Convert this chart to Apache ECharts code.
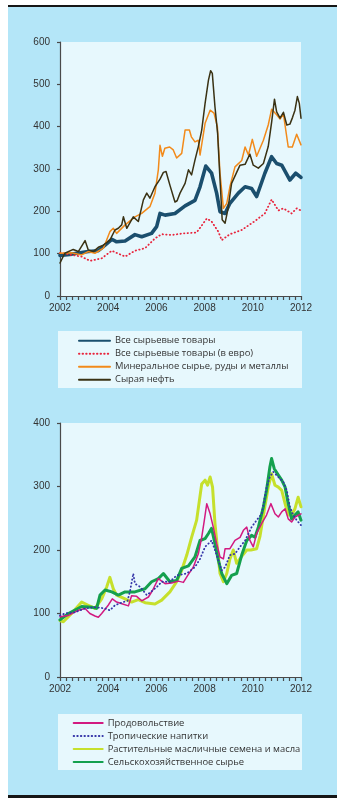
<!DOCTYPE html>
<html>
<head>
<meta charset="utf-8">
<script src="https://cdn.jsdelivr.net/npm/echarts@6/dist/echarts.min.js"></script>
<style>
  html, body { margin: 0; padding: 0; background: #ffffff; }
  #wrap { position: relative; width: 345px; height: 805px; overflow: hidden; }
  #panel { position: absolute; left: 8px; top: 7px; width: 329px; height: 788px; background: #b4e6f8; }
  .rule { position: absolute; left: 8px; width: 329px; height: 2.5px; background: #161616; }
  #chart { position: absolute; left: 0; top: 0; width: 345px; height: 805px; }
</style>
</head>
<body>
<div id="wrap">
  <div id="panel"></div>
  <div class="rule" style="top:4.5px"></div>
  <div class="rule" style="top:795px"></div>
  <div id="chart"></div>
</div>
<script>
// Commodity price indices, 2002 = 100 (pairs of [year, index])
const allCommodities = [[2002.0,96],[2002.5,99],[2003.17,105],[2003.59,107],[2003.87,120],[2004.15,134],[2004.35,128],[2004.7,130],[2005.11,145],[2005.39,140],[2005.8,148],[2006.01,164],[2006.15,195],[2006.36,191],[2006.77,195],[2007.19,213],[2007.6,226],[2007.81,258],[2008.05,307],[2008.29,290],[2008.5,243],[2008.64,199],[2008.85,195],[2009.05,219],[2009.4,243],[2009.68,258],[2009.95,254],[2010.16,235],[2010.5,290],[2010.78,329],[2010.99,313],[2011.2,309],[2011.54,274],[2011.78,290],[2012.0,280]];
const allCommoditiesEuro = [[2002.0,102],[2002.48,97],[2002.9,93],[2003.24,83],[2003.73,89],[2004.15,107],[2004.7,93],[2005.11,107],[2005.53,113],[2005.94,136],[2006.22,146],[2006.63,144],[2007.12,148],[2007.67,150],[2008.09,183],[2008.29,176],[2008.57,152],[2008.71,132],[2009.05,146],[2009.54,156],[2010.09,177],[2010.5,195],[2010.78,228],[2011.06,202],[2011.27,207],[2011.61,195],[2011.82,207],[2012.0,202]];
const minerals = [[2002.0,101],[2002.48,102],[2002.9,97],[2003.17,105],[2003.45,101],[2003.8,113],[2004.07,152],[2004.21,160],[2004.35,148],[2004.7,168],[2005.11,187],[2005.39,195],[2005.73,211],[2005.94,243],[2006.08,298],[2006.15,356],[2006.25,330],[2006.35,349],[2006.55,352],[2006.7,345],[2006.84,326],[2007.05,337],[2007.19,392],[2007.37,392],[2007.45,376],[2007.6,364],[2007.74,368],[2007.81,333],[2008.02,408],[2008.23,439],[2008.39,432],[2008.53,400],[2008.64,290],[2008.78,207],[2008.92,219],[2009.05,258],[2009.26,305],[2009.54,320],[2009.68,352],[2009.82,333],[2009.98,370],[2010.16,330],[2010.44,368],[2010.64,404],[2010.78,441],[2010.99,428],[2011.13,418],[2011.27,430],[2011.47,352],[2011.64,352],[2011.82,382],[2012.0,357]];
const crudeOil = [[2002.0,78],[2002.2,101],[2002.55,110],[2002.76,105],[2003.04,131],[2003.17,109],[2003.38,105],[2003.59,115],[2003.8,120],[2004.07,132],[2004.28,156],[2004.42,160],[2004.56,168],[2004.63,187],[2004.77,160],[2005.04,187],[2005.25,176],[2005.46,227],[2005.6,243],[2005.73,231],[2005.94,258],[2006.15,276],[2006.29,292],[2006.4,294],[2006.56,262],[2006.77,222],[2006.86,225],[2006.98,243],[2007.19,266],[2007.33,298],[2007.46,286],[2007.6,321],[2007.74,353],[2007.88,392],[2008.02,455],[2008.16,510],[2008.25,532],[2008.32,526],[2008.43,447],[2008.54,384],[2008.64,274],[2008.73,180],[2008.85,172],[2008.96,203],[2009.12,266],[2009.33,292],[2009.47,309],[2009.68,311],[2009.88,335],[2010.02,309],[2010.23,302],[2010.44,313],[2010.64,353],[2010.78,410],[2010.9,465],[2010.99,435],[2011.13,420],[2011.27,434],[2011.41,404],[2011.54,406],[2011.65,422],[2011.75,439],[2011.85,471],[2011.93,455],[2012.0,420]];

const food = [[2002.0,95],[2002.35,97],[2002.76,105],[2003.04,108],[2003.24,100],[2003.45,96],[2003.59,94],[2003.73,100],[2004.0,113],[2004.17,123],[2004.35,118],[2004.6,115],[2004.84,112],[2004.97,128],[2005.18,127],[2005.39,120],[2005.67,126],[2005.85,137],[2006.08,155],[2006.36,147],[2006.63,148],[2006.91,151],[2007.12,149],[2007.3,160],[2007.53,173],[2007.74,194],[2007.88,220],[2007.99,247],[2008.09,273],[2008.23,257],[2008.36,236],[2008.5,210],[2008.64,189],[2008.78,186],[2008.85,202],[2009.05,202],[2009.26,215],[2009.47,220],[2009.61,231],[2009.75,236],[2009.88,215],[2010.02,205],[2010.16,226],[2010.37,242],[2010.57,255],[2010.75,273],[2010.92,257],[2011.06,252],[2011.2,260],[2011.34,265],[2011.47,249],[2011.61,244],[2011.75,252],[2012.0,257]];
const beverages = [[2002.0,97],[2002.2,100],[2002.62,102],[2003.04,108],[2003.45,110],[2003.87,108],[2004.07,105],[2004.28,113],[2004.63,118],[2004.8,120],[2004.9,134],[2005.04,163],[2005.11,147],[2005.32,142],[2005.6,129],[2005.87,137],[2006.08,144],[2006.22,150],[2006.56,150],[2006.84,160],[2007.26,163],[2007.6,173],[2007.81,186],[2008.02,205],[2008.16,210],[2008.29,215],[2008.43,200],[2008.57,184],[2008.71,168],[2008.85,173],[2009.05,192],[2009.26,194],[2009.47,205],[2009.68,215],[2009.95,236],[2010.16,247],[2010.37,257],[2010.57,299],[2010.71,315],[2010.85,323],[2011.06,315],[2011.27,307],[2011.41,294],[2011.54,268],[2011.68,255],[2011.82,247],[2012.0,239]];
const oilseeds = [[2002.0,89],[2002.14,87],[2002.48,100],[2002.9,118],[2003.17,113],[2003.45,108],[2003.73,123],[2003.94,142],[2004.07,157],[2004.21,139],[2004.35,129],[2004.7,123],[2004.97,118],[2005.25,122],[2005.53,117],[2005.94,115],[2006.22,121],[2006.56,134],[2006.84,150],[2007.05,168],[2007.26,192],[2007.46,220],[2007.67,247],[2007.88,304],[2008.02,310],[2008.12,302],[2008.23,315],[2008.33,299],[2008.43,242],[2008.54,200],[2008.64,163],[2008.78,150],[2008.92,163],[2009.05,186],[2009.19,200],[2009.33,179],[2009.54,190],[2009.75,200],[2009.92,200],[2010.16,202],[2010.3,222],[2010.5,268],[2010.64,299],[2010.78,320],[2010.92,302],[2011.06,299],[2011.2,294],[2011.34,273],[2011.47,255],[2011.61,255],[2011.75,265],[2011.88,283],[2012.0,268]];
const agriRaw = [[2002.0,90],[2002.35,100],[2002.9,111],[2003.32,110],[2003.52,108],[2003.66,129],[2003.87,137],[2004.15,134],[2004.42,129],[2004.7,134],[2005.11,134],[2005.53,139],[2005.8,150],[2006.08,155],[2006.29,163],[2006.56,150],[2006.84,152],[2007.05,171],[2007.33,175],[2007.6,189],[2007.81,215],[2008.02,218],[2008.16,226],[2008.29,234],[2008.43,210],[2008.57,184],[2008.71,163],[2008.92,147],[2009.12,160],[2009.33,163],[2009.54,192],[2009.75,215],[2009.95,223],[2010.09,220],[2010.23,236],[2010.44,268],[2010.57,294],[2010.71,331],[2010.78,344],[2010.89,328],[2011.06,318],[2011.2,310],[2011.34,299],[2011.47,273],[2011.61,249],[2011.75,255],[2011.88,260],[2012.0,247]];

const yearStart = 2002, yearEnd = 2012;
const topMax = 600, bottomMax = 400;

const names = {
  all: 'Все сырьевые товары',
  euro: 'Все сырьевые товары (в евро)',
  minerals: 'Минеральное сырье, руды и металлы',
  oil: 'Сырая нефть',
  food: 'Продовольствие',
  bev: 'Тропические напитки',
  seeds: 'Растительные масличные семена и масла',
  agri: 'Сельскохозяйственное сырье'
};

const axisFont = { fontFamily: 'Liberation Sans, Arial, sans-serif', fontSize: 10, color: '#333' };
const axisLineStyle = { color: '#4a4a4a', width: 1.2 };
const dotted = [0.4, 3.2];

function xAxisFor(gridIndex) {
  return {
    type: 'value', gridIndex, min: yearStart, max: yearEnd, interval: 0.25,
    axisLine: { show: true, onZero: false, lineStyle: axisLineStyle },
    axisTick: { show: true, length: 4, lineStyle: axisLineStyle },
    axisLabel: Object.assign({ margin: 7, formatter: v => (v % 2 === 0 ? String(v) : '') }, axisFont),
    splitLine: { show: false }
  };
}
function yAxisFor(gridIndex, max) {
  return {
    type: 'value', gridIndex, min: 0, max, interval: 100,
    axisLine: { show: true, lineStyle: axisLineStyle },
    axisTick: { show: true, length: 3, lineStyle: axisLineStyle },
    axisLabel: Object.assign({ margin: 10 }, axisFont),
    splitLine: { show: false }
  };
}
function line(name, data, idx, color, width, type, z) {
  return {
    name, type: 'line', data, xAxisIndex: idx, yAxisIndex: idx,
    showSymbol: false, symbol: 'none', smooth: false, z: z,
    lineStyle: { color, width, type: type || 'solid', cap: 'round', join: 'round' },
    itemStyle: { color },
    emphasis: { disabled: true }, animation: false
  };
}

const legendText = { fontFamily: 'Open Sans, Noto Sans, sans-serif', fontSize: 9.4, color: '#333', lineHeight: 13 };
// legend keys are plain line samples: hide the marker drawn over the line
const legendMarker = { opacity: 0, borderWidth: 0 };

const chart = echarts.init(document.getElementById('chart'), null, { renderer: 'canvas' });
chart.setOption({
  backgroundColor: 'transparent',
  animation: false,
  grid: [
    { left: 60, top: 42, width: 241, height: 254, show: true, backgroundColor: '#e7f8fd', borderWidth: 0 },
    { left: 60, top: 423, width: 241, height: 254, show: true, backgroundColor: '#e7f8fd', borderWidth: 0 }
  ],
  xAxis: [xAxisFor(0), xAxisFor(1)],
  yAxis: [yAxisFor(0, topMax), yAxisFor(1, bottomMax)],
  graphic: [
    { type: 'rect', shape: { x: 58, y: 331, width: 244, height: 57 }, style: { fill: '#e7f8fd' }, z: 0, silent: true },
    { type: 'rect', shape: { x: 58, y: 714, width: 244, height: 56 }, style: { fill: '#e7f8fd' }, z: 0, silent: true }
  ],
  legend: [
    {
      data: [names.all, names.euro, names.minerals, names.oil],
      orient: 'vertical', left: 78, top: 334.3, padding: 0, itemGap: 0,
      itemWidth: 31, itemHeight: 12.8, textStyle: legendText, selectedMode: false,
      itemStyle: legendMarker
    },
    {
      data: [names.food, names.bev, names.seeds, names.agri],
      orient: 'vertical', left: 72.7, top: 716.5, padding: 0, itemGap: 0,
      itemWidth: 29, itemHeight: 13, textStyle: legendText, selectedMode: false,
      itemStyle: legendMarker
    }
  ],
  series: [
    line(names.all, allCommodities, 0, '#1b4f6e', 3.6, 'solid', 2),
    line(names.euro, allCommoditiesEuro, 0, '#e8243c', 1.8, dotted, 3),
    line(names.minerals, minerals, 0, '#f28a1a', 1.5, 'solid', 4),
    line(names.oil, crudeOil, 0, '#3a3214', 1.5, 'solid', 5),
    line(names.seeds, oilseeds, 1, '#c6e02c', 3, 'solid', 2),
    line(names.agri, agriRaw, 1, '#14a04e', 3, 'solid', 3),
    line(names.food, food, 1, '#d21a80', 1.5, 'solid', 4),
    line(names.bev, beverages, 1, '#3434a8', 1.8, dotted, 5)
  ]
});
</script>
</body>
</html>
